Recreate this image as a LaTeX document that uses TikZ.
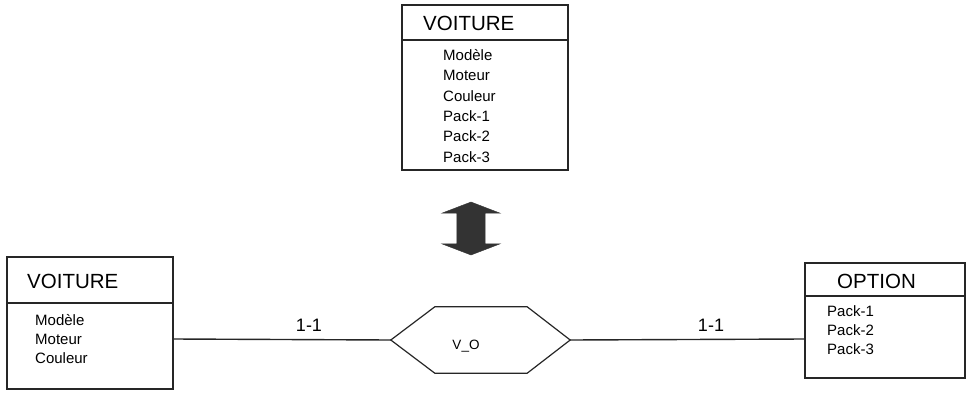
\documentclass[tikz,border=0pt]{standalone}
\usepackage{fontspec}
\setmainfont{Liberation Sans}
\usetikzlibrary{positioning, shapes.arrows}

\tikzset{
    entity/.style={draw=black!85, line width=1.4pt, inner sep=0pt},
    title/.style={anchor=west, inner sep=0pt, font=\fontsize{20.5}{22}\selectfont},
    attr/.style={anchor=west, inner sep=0pt, font=\fontsize{15}{17}\selectfont},
    card/.style={inner sep=0pt, font=\fontsize{18}{20}\selectfont}
}

\begin{document}
\begin{tikzpicture}[x=1pt, y=-1pt]

    \useasboundingbox (0,0) rectangle (967,394);

    % --- Top entity: VOITURE (single table) ---
    \node[entity, minimum width=166pt, minimum height=165pt] (voitT) at (485,87.5) {};
    \coordinate (hdT) at (0,40);
    \draw[line width=1.4pt, black!85] (voitT.west |- hdT) -- (voitT.east |- hdT);
    \node[title] (voitTtitle) at (423,23) {VOITURE};
    \foreach \t [count=\i] in {Modèle, Moteur, Couleur, Pack-1, Pack-2, Pack-3}
        \node[attr] (voitTa\i) at (443, 34.6+20.4*\i) {\t};

    % --- Equivalence arrow ---
    \node[double arrow, draw=black!80, fill=black!80, rotate=90,
          minimum height=53pt, minimum width=58pt, inner xsep=0pt, inner ysep=14pt,
          double arrow head extend=15pt, double arrow tip angle=138] (equiv) at (471,228.5) {};

    % --- Bottom left entity: VOITURE ---
    \node[entity, minimum width=166pt, minimum height=132pt] (voitL) at (90,323) {};
    \coordinate (hdL) at (0,303);
    \draw[line width=1.4pt, black!85] (voitL.west |- hdL) -- (voitL.east |- hdL);
    \node[title] (voitLtitle) at (27,281) {VOITURE};
    \foreach \t [count=\i] in {Modèle, Moteur, Couleur}
        \node[attr] (voitLa\i) at (35, 301+19*\i) {\t};

    % --- Bottom right entity: OPTION ---
    \node[entity, minimum width=160pt, minimum height=115pt] (opt) at (885,320.5) {};
    \coordinate (hdR) at (0,296);
    \draw[line width=1.4pt, black!85] (opt.west |- hdR) -- (opt.east |- hdR);
    \node[title] (opttitle) at (837,281) {OPTION};
    \foreach \t [count=\i] in {Pack-1, Pack-2, Pack-3}
        \node[attr] (opta\i) at (827, 292+19*\i) {\t};

    % --- Association V_O ---
    \node[minimum width=179pt, minimum height=66pt, inner sep=0pt] (vo) at (480.5,340) {};
    \draw[line width=1.2pt, black!85] (vo.west) -- ([xshift=44pt]vo.north west)
        -- ([xshift=-43pt]vo.north east) -- (vo.east)
        -- ([xshift=-43pt]vo.south east) -- ([xshift=44pt]vo.south west) -- cycle;
    \node[attr, anchor=center, font=\fontsize{13.5}{15}\selectfont] (volabel) at (466,346) {V\_O};

    % --- Links with cardinalities ---
    \coordinate (lnk) at (0,339);
    \draw[line width=1.4pt, black!85] (voitL.east |- lnk) -- (vo.west);
    \draw[line width=1.4pt, black!85] (vo.east) -- (opt.west |- lnk);
    \node[card] (cardL) at (309,325) {1-1};
    \node[card] (cardR) at (711,325) {1-1};

\end{tikzpicture}
\end{document}
